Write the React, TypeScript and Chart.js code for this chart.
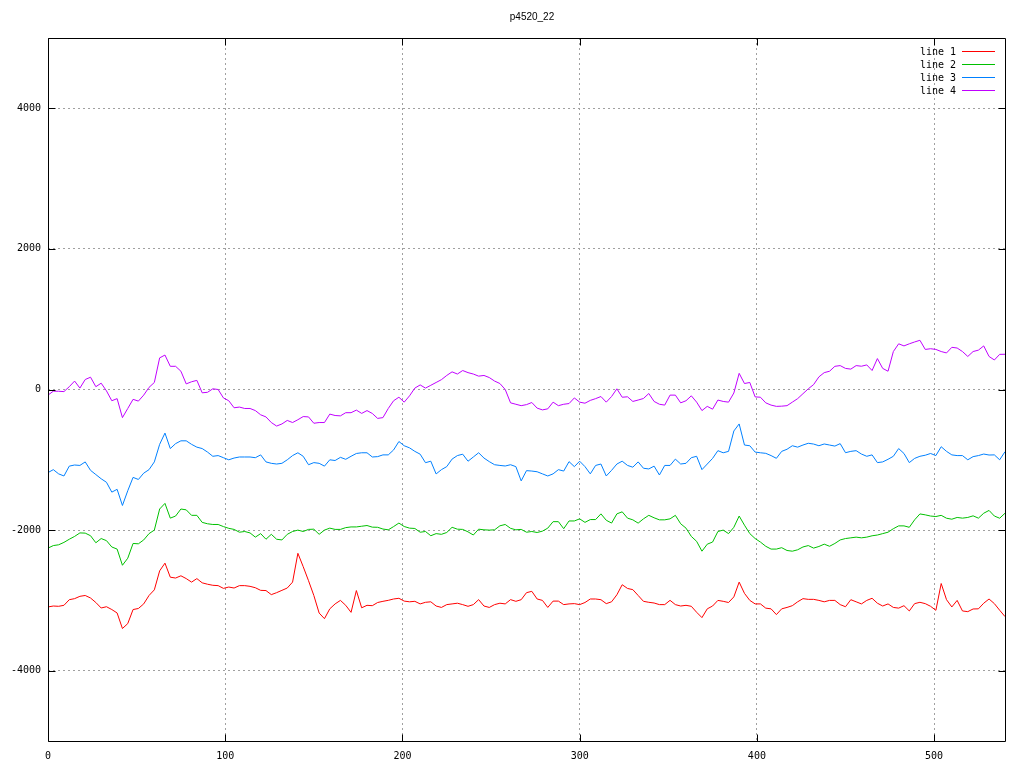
import React, { useEffect, useRef } from "react";
import { Chart, registerables } from "chart.js";

Chart.register(...registerables);

const TITLE = "p4520_22";
const SERIES_LABELS = ["line 1", "line 2", "line 3", "line 4"];
const SERIES_COLORS = ["#ff0000", "#00c000", "#0080ff", "#c000ff"];
const X_TICKS = [0, 100, 200, 300, 400, 500];
const Y_TICKS = [-4000, -2000, 0, 2000, 4000];
const X_MIN = 0;
const X_MAX = 540;
const Y_MIN = -5000;
const Y_MAX = 5000;
const X_STEP = 3; // samples read every 3 units along x

// line 1 (red)
const line1 = [
  -3093, -3080, -3084, -3070, -2990, -2975, -2942, -2930, -2966, -3030,
  -3108, -3090, -3130, -3179, -3400, -3330, -3130, -3115, -3050, -2930,
  -2850, -2580, -2470, -2670, -2682, -2650, -2690, -2740, -2690, -2750,
  -2770, -2785, -2790, -2829, -2810, -2824, -2790, -2790, -2800, -2820,
  -2857, -2860, -2918, -2890, -2857, -2824,
  -2740, -2330, -2520, -2720, -2930, -3180, -3260, -3120, -3050, -3000,
  -3070, -3170, -2860, -3105, -3070, -3075, -3030, -3013, -2999, -2980,
  -2970, -3010, -3020, -3013, -3050, -3027, -3020, -3080, -3100, -3060,
  -3050, -3040, -3060, -3084, -3060, -2989, -3080, -3100, -3060, -3040,
  -3050, -2989, -3013, -2990, -2890,
  -2871, -2980, -3000, -3100, -3010, -3010, -3060, -3050, -3046, -3060,
  -3030, -2980, -2980, -2990, -3046, -3020, -2920, -2777, -2830, -2847,
  -2930, -3013, -3027, -3037, -3060, -3060, -2999, -3060, -3080, -3070,
  -3084, -3169, -3245, -3120, -3080, -3000, -3013, -3030, -2950, -2740,
  -2900, -3000, -3050, -3050, -3110,
  -3120, -3202, -3120, -3100, -3075, -3020, -2975, -2985, -2985, -3000,
  -3020, -3000, -3000, -3060, -3090, -2990, -3020, -3050, -3000, -2970,
  -3040, -3080, -3050, -3100, -3110, -3075, -3150, -3046, -3027, -3046,
  -3084, -3141, -2760, -2990, -3093, -3000, -3150, -3160, -3122, -3120,
  -3040, -2980, -3046, -3140, -3230,
];

// line 2 (green)
const line2 = [
  -2256, -2220, -2209, -2175, -2130, -2090, -2040, -2043, -2080, -2180,
  -2120, -2150, -2240, -2270, -2500, -2400, -2190, -2195, -2140, -2050,
  -2000, -1700, -1620, -1830, -1800, -1700, -1712, -1790, -1790, -1890,
  -1910, -1920, -1920, -1950, -1975, -1990, -2030, -2020, -2040, -2100,
  -2050, -2130, -2060, -2130, -2140, -2060,
  -2020, -2000, -2020, -1990, -1987, -2060, -2000, -1972, -1990, -1990,
  -1965, -1955, -1955, -1945, -1935, -1958, -1960, -1985, -1996, -1950,
  -1900, -1949, -1972, -1977, -2030, -2020, -2080, -2050, -2060, -2034,
  -1960, -1987, -1990, -2025, -2070, -1987, -1996, -2000, -1996, -1939,
  -1920, -1975, -1996, -1990, -2030,
  -2020, -2034, -2015, -1972, -1880, -1880, -1980, -1870, -1870, -1840,
  -1890, -1850, -1850, -1769, -1860, -1900, -1769, -1740, -1830, -1854,
  -1901, -1840, -1790, -1825, -1854, -1854, -1840, -1790, -1910, -1972,
  -2090, -2160, -2300, -2200, -2170, -2020, -2000, -2050, -1960, -1800,
  -1930, -2050, -2120, -2170, -2230,
  -2270, -2270, -2250, -2290, -2300, -2280, -2240, -2220, -2256, -2233,
  -2200, -2230, -2190, -2140, -2120, -2110, -2100, -2110, -2100, -2081,
  -2070, -2050, -2030, -1980, -1940, -1940, -1960, -1854, -1770, -1783,
  -1800, -1807, -1790, -1831, -1845, -1820, -1830, -1820, -1797, -1830,
  -1760, -1720, -1800, -1831, -1760,
];

// line 3 (blue)
const line3 = [
  -1182, -1140, -1200, -1230, -1090, -1074, -1080, -1030, -1150, -1210,
  -1270, -1320, -1460, -1420, -1650, -1440, -1250, -1280, -1190, -1140,
  -1030, -780, -620, -840, -770, -730, -730, -780, -820, -840,
  -890, -950, -940, -970, -1000, -975, -960, -960, -960, -970,
  -930, -1030, -1050, -1060, -1050, -1000,
  -940, -900, -950, -1070, -1040, -1050, -1090, -1000, -1010, -965,
  -993, -950, -910, -900, -900, -960, -955, -930, -930, -860,
  -740, -800, -830, -880, -920, -1041, -1020, -1201, -1140, -1097,
  -990, -940, -920, -1020, -960, -900, -975, -1026, -1070, -1080,
  -1088, -1070, -1097, -1300, -1154,
  -1160, -1170, -1200, -1230, -1200, -1140, -1160, -1026, -1097, -1020,
  -1097, -1200, -1080, -1060, -1230, -1150, -1060, -1020, -1080, -1105,
  -1030, -1120, -1130, -1090, -1216, -1080, -1080, -990, -1060, -1050,
  -970, -950, -1140, -1060, -980, -870, -900, -880, -590, -490,
  -790, -800, -890, -900, -908,
  -940, -979, -880, -850, -800, -820, -790, -765, -776, -800,
  -775, -790, -805, -770, -899, -880, -870, -918, -950, -930,
  -1040, -1030, -993, -950, -840, -910, -1040, -980, -950, -935,
  -910, -940, -814, -880, -930, -940, -940, -1000, -955, -940,
  -918, -932, -930, -1000, -885,
];

// line 4 (purple)
const line4 = [
  -80, -24, -25, -30, 40, 120, 20, 142, 175, 40,
  90, -20, -160, -130, -400, -270, -140, -165, -80, 30,
  100, 450, 490, 330, 330, 260, 80, 110, 130, -47,
  -40, 10, 0, -120, -160, -260, -250, -270, -270, -300,
  -360, -390, -470, -520, -490, -440,
  -470, -430, -385, -390, -480, -470, -470, -350, -370, -375,
  -330, -330, -293, -340, -300, -341, -411, -400, -270, -160,
  -110, -180, -90, 20, 65, 20, 60, 100, 140, 200,
  251, 220, 270, 240, 220, 190, 200, 170, 120, 85,
  0, -190, -210, -230, -215,
  -185, -265, -290, -275, -180, -230, -210, -200, -120, -180,
  -195, -155, -130, -100, -180, -100, 10, -110, -104, -170,
  -150, -128, -57, -170, -210, -222, -80, -80, -190, -160,
  -90, -180, -300, -240, -280, -150, -170, -180, -50, 230,
  85, 100, -105, -110, -190,
  -222, -240, -237, -230, -180, -130, -60, 10, 70, 180,
  240, 260, 330, 340, 300, 290, 340, 331, 350, 270,
  440, 300, 260, 540, 650, 620, 650, 676, 700, 570,
  580, 570, 540, 520, 600, 590, 540, 470, 540, 560,
  620, 470, 420, 500, 501,
];

const SERIES = [line1, line2, line3, line4];
const X_VALUES = line1.map((_, i) => X_MIN + i * X_STEP);

const MONO = "'DejaVu Sans Mono', 'Liberation Mono', monospace";

const gnuplotDecor = {
  id: "gnuplotDecor",
  afterDraw(chart: any) {
    const { ctx, chartArea, scales } = chart;
    const { left, right, top, bottom } = chartArea;
    const xs = scales.x;
    const ys = scales.y;
    const L = Math.round(left) + 0.5;
    const R = Math.round(right) + 0.5;
    const T = Math.round(top) + 0.5;
    const B = Math.round(bottom) + 0.5;
    const tick = 7;
    ctx.save();
    ctx.strokeStyle = "#000";
    ctx.lineWidth = 1;
    ctx.setLineDash([]);
    ctx.beginPath();
    ctx.moveTo(L, T);
    ctx.lineTo(R, T);
    ctx.lineTo(R, B);
    ctx.lineTo(L, B);
    ctx.closePath();
    ctx.stroke();
    // inward mirrored ticks
    ctx.beginPath();
    for (const v of X_TICKS) {
      const px = Math.round(xs.getPixelForValue(v)) + 0.5;
      ctx.moveTo(px, B);
      ctx.lineTo(px, B - tick);
      ctx.moveTo(px, T);
      ctx.lineTo(px, T + tick);
    }
    for (const v of Y_TICKS) {
      const py = Math.round(ys.getPixelForValue(v)) + 0.5;
      ctx.moveTo(L, py);
      ctx.lineTo(L + tick, py);
      ctx.moveTo(R, py);
      ctx.lineTo(R - tick, py);
    }
    ctx.stroke();

    // title
    ctx.fillStyle = "#000";
    ctx.font = "10px 'Liberation Sans', Arial, sans-serif";
    ctx.textAlign = "center";
    ctx.textBaseline = "alphabetic";
    ctx.fillText(TITLE, 532, 20);

    // legend (gnuplot style, top right inside plot)
    ctx.font = `10px ${MONO}`;
    chart.data.datasets.forEach((ds: any, i: number) => {
      const y = 51.5 + i * 13;
      ctx.fillStyle = "#000";
      ctx.textAlign = "right";
      ctx.textBaseline = "middle";
      ctx.fillText(ds.label, 956, y + 0.5);
      ctx.strokeStyle = ds.borderColor;
      ctx.beginPath();
      ctx.moveTo(962, y);
      ctx.lineTo(995, y);
      ctx.stroke();
    });
    ctx.restore();
  },
};

export default function App() {
  const ref = useRef<HTMLCanvasElement>(null);

  useEffect(() => {
    const canvas = ref.current;
    if (!canvas) return;
    const tickFont = { family: MONO, size: 10 };
    const chart = new Chart(canvas, {
      type: "line",
      data: {
        datasets: SERIES.map((vals, i) => ({
          label: SERIES_LABELS[i],
          data: vals.map((y, j) => ({ x: X_VALUES[j], y })),
          borderColor: SERIES_COLORS[i],
          backgroundColor: SERIES_COLORS[i],
          borderWidth: 1,
          pointRadius: 0,
          fill: false,
          tension: 0,
        })),
      },
      options: {
        responsive: false,
        animation: false,
        devicePixelRatio: 1,
        events: [],
        layout: { padding: { top: 38, right: 19, left: 0, bottom: 0 } },
        plugins: {
          legend: { display: false },
          title: { display: false },
          tooltip: { enabled: false },
        },
        scales: {
          x: {
            type: "linear",
            min: X_MIN,
            max: X_MAX,
            afterBuildTicks: (scale: any) => {
              scale.ticks = X_TICKS.map((v) => ({ value: v }));
            },
            afterFit: (scale: any) => {
              scale.height = 27;
            },
            ticks: {
              font: tickFont,
              color: "#000",
              padding: 9,
              maxRotation: 0,
              autoSkip: false,
              callback: (v: any) => String(v),
            },
            grid: { color: "#a0a0a0", lineWidth: 1, drawTicks: false },
            border: { display: false, dash: [2, 3] },
          },
          y: {
            type: "linear",
            min: Y_MIN,
            max: Y_MAX,
            afterBuildTicks: (scale: any) => {
              scale.ticks = Y_TICKS.map((v) => ({ value: v }));
            },
            afterFit: (scale: any) => {
              scale.width = 48;
            },
            ticks: {
              font: tickFont,
              color: "#000",
              padding: 7,
              autoSkip: false,
              callback: (v: any) => String(v),
            },
            grid: { color: "#a0a0a0", lineWidth: 1, drawTicks: false },
            border: { display: false, dash: [2, 3] },
          },
        },
      },
      plugins: [gnuplotDecor],
    });
    return () => chart.destroy();
  }, []);

  return (
    <div
      style={{
        position: "fixed",
        left: 0,
        top: 0,
        width: 1024,
        height: 768,
        background: "#fff",
      }}
    >
      <canvas ref={ref} width={1024} height={768} style={{ display: "block" }} />
    </div>
  );
}
